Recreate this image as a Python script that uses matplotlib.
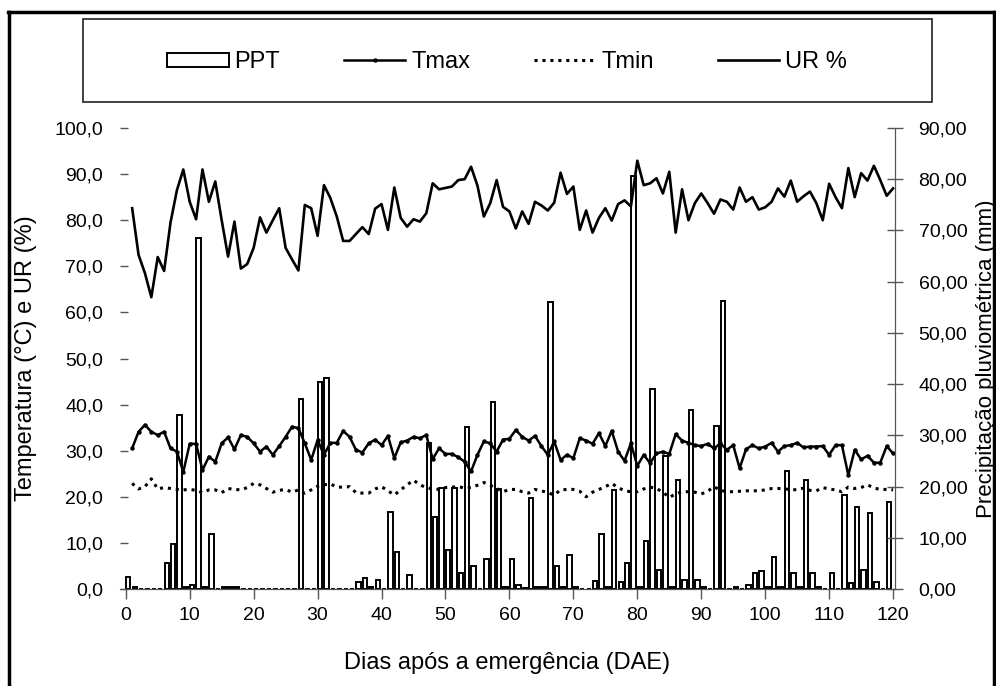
import numpy as np
import matplotlib.pyplot as plt
from matplotlib.patches import Rectangle
from matplotlib.lines import Line2D
from matplotlib.ticker import FuncFormatter

plt.rcParams['font.family'] = ['Liberation Sans', 'DejaVu Sans']

# ================== DATA ==================

days = list(range(1, 121))

# relative humidity (%), left axis
ur = [82.6, 72.5, 68.5, 63.3, 72.0, 69.0, 79.5, 86.5, 91.0, 84.0,
      80.2, 91.0, 84.0, 88.4, 80.0, 72.1, 79.7, 69.5, 70.5, 74.0,
      80.6, 77.3, 80.0, 82.6, 74.0, 71.5, 69.1, 83.3, 82.6, 76.6,
      87.6, 84.8, 80.8, 75.5, 75.5, 77.0, 78.5, 77.0, 82.5, 83.5,
      77.9, 87.1, 80.5, 78.6, 80.2, 79.7, 81.5, 88.0, 86.7, 87.0,
      87.3, 88.7, 88.9, 91.6, 87.5, 80.8, 83.7, 88.7, 82.9, 81.9,
      78.2, 81.9, 79.2, 84.0, 83.2, 82.1, 83.8, 90.3, 85.7, 87.3,
      77.9, 82.1, 77.3, 80.5, 82.6, 79.9, 83.5, 84.3, 83.0, 92.9,
      87.6, 88.0, 89.1, 85.8, 90.5, 77.3, 86.7, 80.0, 83.7, 85.8,
      83.7, 81.4, 84.5, 84.0, 82.3, 87.1, 84.0, 85.0, 82.3, 82.8,
      84.0, 86.9, 85.1, 88.6, 84.0, 85.2, 86.2, 83.7, 80.0, 87.9,
      85.0, 82.6, 91.3, 85.0, 90.2, 88.6, 91.8, 88.7, 85.3, 86.9]

# maximum temperature (°C)
tmax = [30.5, 34.1, 35.6, 34.1, 33.4, 34.1, 30.5, 29.8, 25.4, 31.5,
        31.5, 25.8, 28.7, 27.6, 31.6, 32.9, 30.3, 33.4, 33.0, 31.6,
        29.8, 30.9, 29.1, 31.0, 33.0, 35.2, 34.9, 31.6, 28.0, 32.3,
        29.1, 31.7, 31.7, 34.3, 33.0, 30.2, 29.6, 31.6, 32.4, 31.2,
        33.2, 28.4, 31.8, 32.2, 33.0, 32.7, 33.4, 28.2, 30.5, 29.3,
        29.3, 28.6, 27.6, 25.5, 29.1, 32.0, 31.6, 29.8, 32.4, 32.6,
        34.5, 33.0, 32.2, 33.2, 31.0, 29.1, 32.0, 28.0, 29.1, 28.4,
        32.7, 32.2, 31.5, 33.8, 31.0, 34.3, 29.8, 27.8, 31.6, 26.7,
        29.1, 27.3, 29.4, 29.8, 29.3, 33.6, 32.2, 31.7, 31.2, 31.0,
        31.5, 30.5, 31.6, 30.2, 31.2, 26.2, 30.3, 31.2, 30.5, 30.9,
        31.7, 29.8, 31.0, 31.2, 31.7, 30.7, 30.9, 30.9, 31.0, 29.1,
        31.2, 31.2, 24.7, 30.2, 28.1, 28.9, 27.4, 27.4, 31.0, 29.4]

# minimum temperature (°C)
tmin = [22.9, 21.7, 22.2, 23.9, 21.7, 22.0, 21.8, 21.6, 21.5, 21.6,
        21.4, 20.9, 21.5, 21.5, 20.9, 21.8, 21.6, 21.5, 22.0, 22.9,
        22.6, 21.8, 21.0, 21.4, 21.6, 21.0, 21.5, 20.8, 21.5, 22.3,
        22.6, 22.8, 22.1, 22.1, 22.2, 20.9, 20.8, 20.8, 21.7, 22.2,
        21.3, 20.4, 21.5, 22.6, 23.6, 22.6, 22.0, 21.7, 21.6, 22.0,
        22.1, 22.2, 21.9, 22.0, 22.5, 23.1, 22.5, 21.8, 21.1, 21.6,
        21.6, 21.1, 20.8, 21.6, 21.3, 20.9, 20.4, 21.5, 21.6, 21.6,
        21.2, 20.0, 21.0, 21.6, 22.2, 22.9, 22.0, 21.3, 21.1, 21.1,
        21.7, 22.1, 21.8, 21.0, 19.9, 20.6, 21.1, 21.1, 21.0, 20.6,
        21.2, 22.2, 21.4, 21.1, 21.1, 21.2, 21.3, 21.3, 21.3, 21.5,
        21.8, 21.8, 21.7, 21.6, 21.5, 21.9, 21.4, 21.3, 22.0, 21.7,
        21.5, 21.1, 22.1, 21.8, 22.0, 22.6, 21.9, 21.6, 21.6, 21.5]

# rainfall (mm), right axis
ppt = [2.4, 0.4, 0.0, 0.0, 0.0, 0.0, 5.0, 8.7, 34.0, 0.4,
       0.8, 68.5, 0.4, 10.7, 0.0, 0.3, 0.3, 0.3, 0.0, 0.0,
       0.0, 0.0, 0.0, 0.0, 0.0, 0.0, 0.0, 37.0, 0.0, 0.0,
       40.4, 41.2, 0.0, 0.0, 0.0, 0.0, 1.4, 2.2, 0.4, 1.7,
       0.0, 15.1, 7.2, 0.0, 2.7, 0.0, 0.0, 28.5, 14.0, 19.7,
       7.6, 19.7, 3.2, 31.6, 4.4, 0.0, 5.9, 36.5, 19.6, 0.3,
       5.8, 0.8, 0.2, 17.7, 0.3, 0.3, 56.0, 4.4, 0.3, 6.6,
       0.3, 0.0, 0.0, 1.6, 10.7, 0.3, 19.4, 1.4, 5.1, 80.6,
       0.3, 9.4, 39.1, 3.8, 25.9, 0.3, 21.2, 1.8, 35.0, 1.8,
       0.3, 0.0, 31.8, 56.2, 0.0, 0.3, 0.0, 0.8, 3.2, 3.6,
       0.3, 6.3, 0.3, 23.0, 3.1, 0.3, 21.2, 3.1, 0.3, 0.0,
       3.1, 0.0, 18.4, 1.2, 16.1, 3.7, 14.9, 1.4, 0.0, 16.9]

xticks = list(range(0, 121, 10))

# ================== PLOT ==================

W, H = 996, 686
fig = plt.figure(figsize=(W / 100, H / 100), dpi=100)

# axes box in pixels: x 120..895, y 128..589 (from top)
ax = fig.add_axes([120 / W, 1 - 589 / H, 775 / W, 461 / H])
axl = ax.twinx()

# bars go on the bottom axes so the lines are drawn over them
bar_x = np.array(days) - 0.6
bars = ax.bar(bar_x, ppt, width=0.68, facecolor="white", edgecolor="black",
              linewidth=1.4, label="PPT")
ax.set_ylim(0, 90)
ax.set_xlim(-0.9, 120.3)
ax.yaxis.tick_right()
ax.yaxis.set_label_position("right")
ax.set_yticks(np.arange(0, 91, 10))
ax.yaxis.set_major_formatter(FuncFormatter(lambda v, p: f"{v:.2f}".replace(".", ",")))
ax.set_xticks(xticks)

ln_tmax, = axl.plot(days, tmax, color="black", lw=1.8, marker="o", ms=2.2, label="Tmax")
ln_tmin, = axl.plot(days, tmin, color="black", lw=2.2, ls=(0, (1, 1.6)), label="Tmin")
ln_ur, = axl.plot(days, ur, color="black", lw=1.9, label="UR %")
axl.set_ylim(0, 100)
axl.yaxis.tick_left()
axl.yaxis.set_label_position("left")
axl.set_yticks(np.arange(0, 101, 10))
axl.yaxis.set_major_formatter(FuncFormatter(lambda v, p: f"{v:.1f}".replace(".", ",")))

for a in (ax, axl):
    a.spines["top"].set_visible(False)
    a.spines["left"].set_visible(False)
    a.spines["right"].set_color("#555555")
    a.spines["bottom"].set_color("#555555")
    a.patch.set_visible(False)

ax.tick_params(axis="x", direction="out", length=7, width=1, color="#555555",
               labelsize=14, pad=6)
ax.tick_params(axis="y", direction="inout", length=12, width=1, color="#555555",
               labelsize=14, pad=11)
axl.tick_params(axis="y", direction="in", length=6, width=1, color="#555555",
                labelsize=14, pad=12)

ax.set_xlabel("Dias após a emergência (DAE)", fontsize=17, labelpad=20)
ax.set_ylabel("Precipitação pluviométrica (mm)", fontsize=16)
axl.set_ylabel("Temperatura (°C) e UR (%)", fontsize=17)
axl.yaxis.set_label_coords(-0.107, 0.5)
ax.yaxis.set_label_coords(1.104, 0.5)

# outer frame (top, left, right)
fig.add_artist(Line2D([9 / W, 9 / W], [0, 1 - 12 / H], color="black", lw=2.5,
                      transform=fig.transFigure))
fig.add_artist(Line2D([8 / W, 994 / W], [1 - 12 / H, 1 - 12 / H], color="black", lw=2.5,
                      transform=fig.transFigure))
fig.add_artist(Line2D([994 / W, 994 / W], [0, 1 - 12 / H], color="black", lw=2.5,
                      transform=fig.transFigure))

# legend box
fig.add_artist(Rectangle((83 / W, 1 - 102 / H), (932 - 83) / W, 83 / H,
                         facecolor="white", edgecolor="#333333", lw=1.3,
                         transform=fig.transFigure))
fig.legend(handles=[bars, ln_tmax, ln_tmin, ln_ur],
           labels=["PPT", "Tmax", "Tmin", "UR %"],
           loc="center", bbox_to_anchor=(507 / W, 1 - 62 / H), ncol=4,
           frameon=False, fontsize=17, handlelength=2.6, handleheight=0.55,
           handletextpad=0.25, columnspacing=2.7)

fig.savefig("out.png", dpi=100)
